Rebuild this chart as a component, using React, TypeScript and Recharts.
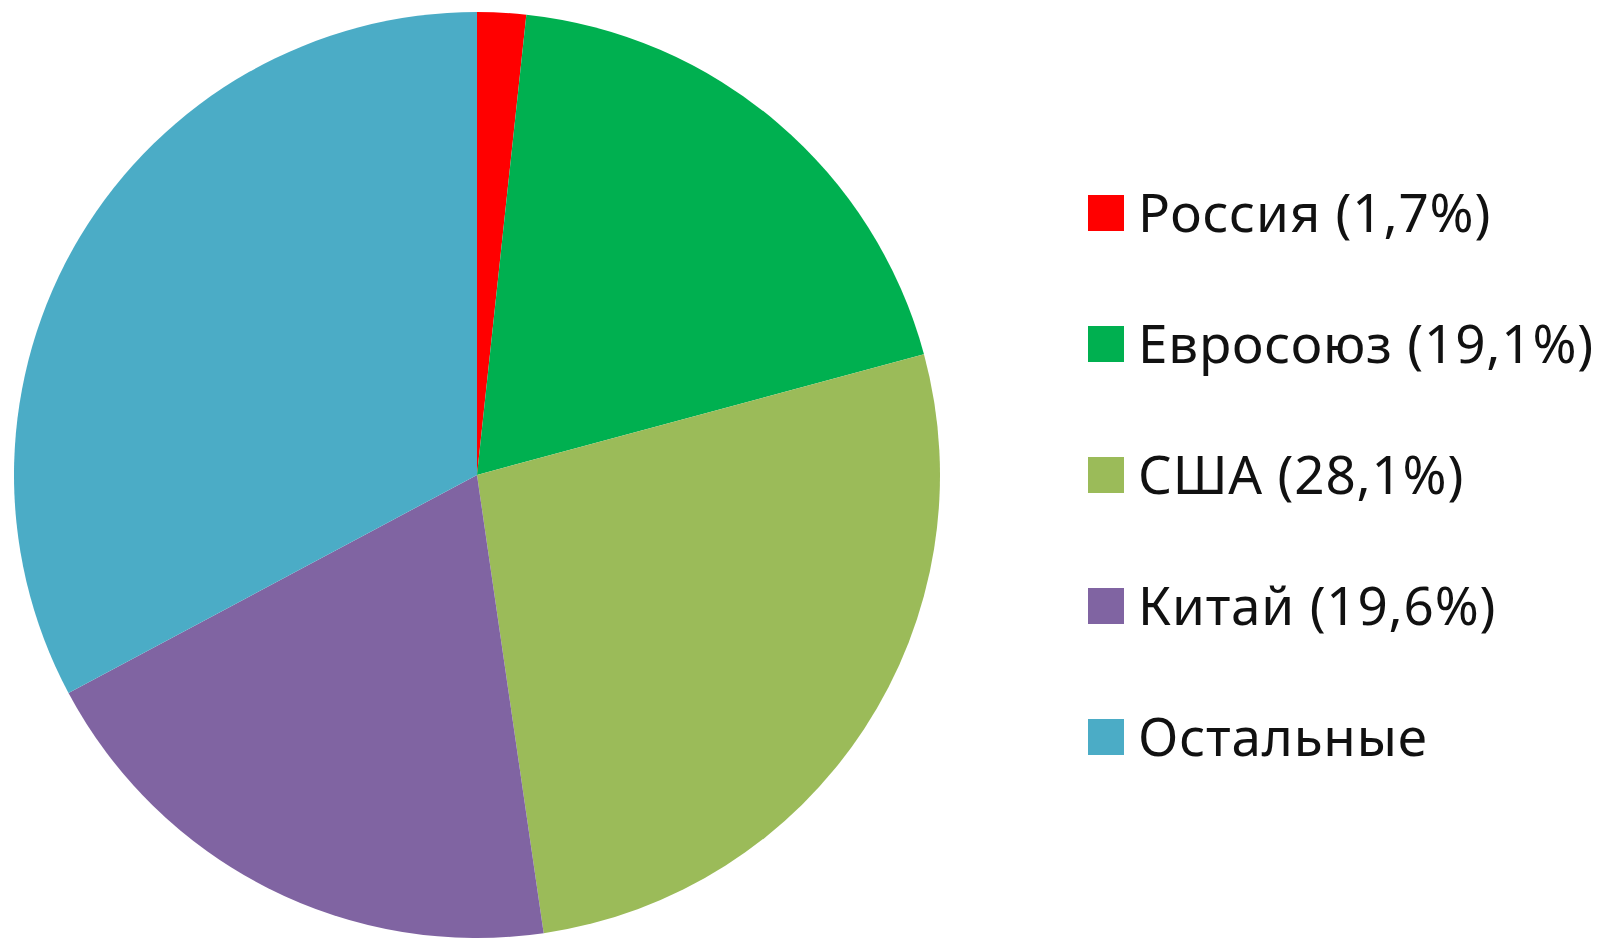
import React from 'react';
import { PieChart, Pie, Cell, Legend } from 'recharts';

// shares as drawn in the pie (legend text keeps the printed figures)
const NAMES = ['Россия', 'Евросоюз', 'США', 'Китай', 'Остальные'];
const SHARES = [1.7, 19.1, 26.9, 19.5, 32.8];
const LABELS = ['Россия (1,7%)', 'Евросоюз (19,1%)', 'США (28,1%)', 'Китай (19,6%)', 'Остальные'];
const COLORS = ['#FF0000', '#00B050', '#9BBB59', '#8064A2', '#4BACC6'];

const data = NAMES.map((name, i) => ({ name, value: SHARES[i], label: LABELS[i] }));

function LegendList() {
  return (
    <div
      style={{
        fontFamily: '"Noto Sans", sans-serif',
        fontSize: 53,
        lineHeight: '53px',
        letterSpacing: 0.8,
        color: '#111',
      }}
    >
      {data.map((d, i) => (
        <div
          key={d.name}
          style={{ display: 'flex', alignItems: 'center', height: 131, whiteSpace: 'nowrap' }}
        >
          <span
            style={{
              display: 'inline-block',
              width: 36,
              height: 36,
              background: COLORS[i],
              marginRight: 14,
              transform: 'translateY(1px)',
            }}
          />
          <span>{d.label}</span>
        </div>
      ))}
    </div>
  );
}

export default function App() {
  return (
    <div style={{ position: 'absolute', left: 0, top: 0, width: 1607, height: 948, background: '#fff' }}>
      <PieChart width={1607} height={948} margin={{ top: 0, right: 0, bottom: 0, left: 0 }}>
        <Pie
          data={data}
          dataKey="value"
          nameKey="name"
          cx={477}
          cy={475}
          outerRadius={463}
          startAngle={90}
          endAngle={-270}
          stroke="none"
          isAnimationActive={false}
        >
          {data.map((d, i) => (
            <Cell key={d.name} fill={COLORS[i]} />
          ))}
        </Pie>
        <Legend
          content={() => <LegendList />}
          wrapperStyle={{ position: 'absolute', left: 1088, top: 146, width: 519 }}
        />
      </PieChart>
    </div>
  );
}
